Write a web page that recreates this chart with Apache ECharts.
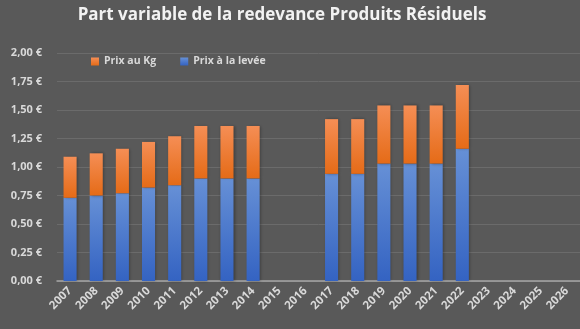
<!DOCTYPE html>
<html><head><meta charset="utf-8">
<script src="https://cdn.jsdelivr.net/npm/echarts@6/dist/echarts.min.js"></script>
<style>html,body{margin:0;padding:0;background:#595959;}#c{width:580px;height:329px;}</style>
</head><body><div id="c"></div>
<script>
const years = ['2007','2008','2009','2010','2011','2012','2013','2014','2015','2016','2017','2018','2019','2020','2021','2022','2023','2024','2025','2026'];
const prixLevee = [0.73,0.75,0.77,0.82,0.84,0.90,0.90,0.90,null,null,0.94,0.94,1.03,1.03,1.03,1.16,null,null,null,null];
const prixKg = [0.36,0.37,0.39,0.40,0.43,0.46,0.46,0.46,null,null,0.48,0.48,0.51,0.51,0.51,0.56,null,null,null,null];
const yTicks = [0,0.25,0.5,0.75,1,1.25,1.5,1.75,2];

const grad = (a,b)=>new echarts.graphic.LinearGradient(0,0,0,1,[{offset:0,color:a},{offset:1,color:b}]);
const chart = echarts.init(document.getElementById('c'));
const lab = {color:'#d9d9d9',fontWeight:'bold',fontSize:11,fontFamily:'Open Sans'};
chart.setOption({
  backgroundColor:'#595959',
  animation:false,
  title:{text:'Part variable de la redevance Produits Résiduels',left:277,top:2,textAlign:'center',
    textStyle:{color:'#f2f2f2',fontSize:17,fontWeight:'bold',fontFamily:'Open Sans'}},
  legend:{left:86,top:51,itemWidth:8,itemHeight:8,itemGap:24,icon:'rect',
    textStyle:Object.assign({},lab,{fontSize:10.5}),data:['Prix au Kg','Prix à la levée']},
  grid:{left:57,top:53,width:524,bottom:48,containLabel:false},
  xAxis:{type:'category',data:years,
    axisLine:{lineStyle:{color:'#a6a6a6',width:1.5}},axisTick:{show:false},
    axisLabel:Object.assign({},lab,{rotate:45,margin:8,interval:0,fontSize:11.5})},
  yAxis:{type:'value',min:0,max:2,interval:0.25,
    axisLabel:Object.assign({},lab,{margin:15,formatter:v=>v.toFixed(2).replace('.',',')+' €'}),
    splitLine:{lineStyle:{color:'#6b6b6b',width:1}},axisLine:{show:false},axisTick:{show:false}},
  series:[
    {name:'Prix à la levée',type:'bar',stack:'t',data:prixLevee,barWidth:'50%',
      itemStyle:{color:grad('#6690d6','#3463c2'),shadowColor:'rgba(0,0,0,0.35)',shadowBlur:3,shadowOffsetX:1}},
    {name:'Prix au Kg',type:'bar',stack:'t',data:prixKg,barWidth:'50%',
      itemStyle:{color:grad('#f58e55','#e56b17'),shadowColor:'rgba(0,0,0,0.35)',shadowBlur:3,shadowOffsetX:1}}
  ]
});
</script></body></html>
